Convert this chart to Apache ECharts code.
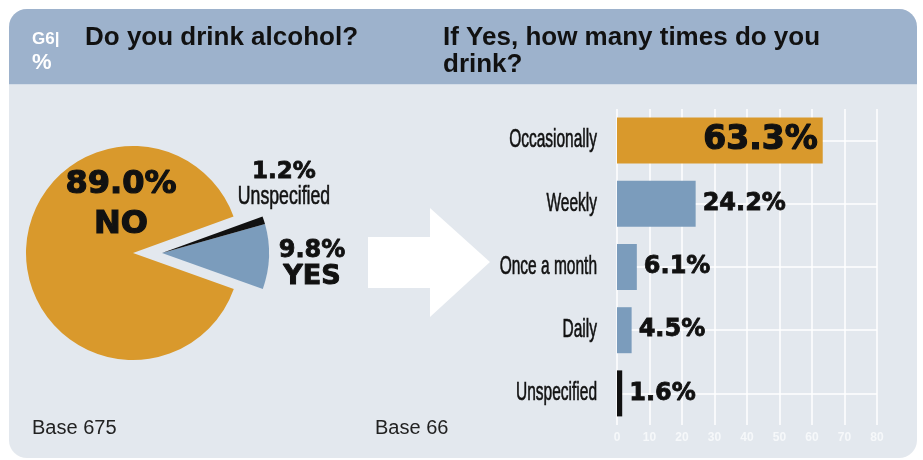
<!DOCTYPE html>
<html>
<head>
<meta charset="utf-8">
<script src="https://cdn.jsdelivr.net/npm/echarts@6/dist/echarts.min.js"></script>
<style>
  html, body { margin: 0; padding: 0; background: #fff; }
  #main { width: 923px; height: 460px; }
</style>
</head>
<body>
<div id="main"></div>
<script>
// left: do you drink alcohol
var pieNames = ['NO', 'YES', 'Unspecified'];
var pieValues = [89.0, 9.8, 1.2];
var pieColors = ['#d9992c', '#7b9cbc', '#111111'];
var pieBase = 675;

// right: how many times
var barCats = ['Occasionally', 'Weekly', 'Once a month', 'Daily', 'Unspecified'];
var barValues = [63.3, 24.2, 6.1, 4.5, 1.6];
var barColors = ['#d9992c', '#7b9cbc', '#7b9cbc', '#7b9cbc', '#111111'];
var barBase = 66;
var xMin = 0, xMax = 80, xStep = 10;

var chart = echarts.init(document.getElementById('main'));

var heavy = 'DejaVu Sans';
var plain = '"Liberation Sans", Arial, sans-serif';
var clear = 'rgba(0,0,0,0)';
// no narrow font installed, so the condensed labels are squeezed
var squeeze = 0.62;

// NO slice stays put, the other two are pulled out to the right together
var pieData = function (exploded) {
    return pieNames.map(function (n, i) {
        var show = exploded ? i > 0 : i === 0;
        return {
            name: n,
            value: pieValues[i],
            itemStyle: {color: show ? pieColors[i] : clear, borderWidth: 0}
        };
    });
};
var pct = function (v) {
    return v.toFixed(1) + '%';
};

var txt = function (x, y, text, font, fill, align, thick) {
    var style = {text: text, font: font, fill: fill, align: align || 'left', verticalAlign: 'middle'};
    if (thick) {
        style.stroke = fill;
        style.lineWidth = thick;
    }
    return {type: 'text', x: x, y: y, z: 10, style: style};
};

var graphics = [
    {type: 'rect', z: -10, shape: {x: 9, y: 9, width: 908, height: 449, r: 18}, style: {fill: '#e3e8ee'}},
    {type: 'rect', z: -9, shape: {x: 9, y: 9, width: 908, height: 75, r: [18, 18, 0, 0]}, style: {fill: '#9db2cc'}},
    {type: 'rect', z: -9, shape: {x: 9, y: 84, width: 908, height: 1}, style: {fill: '#d4dde8'}},
    txt(32, 39, 'G6|', 'bold 17px ' + plain, '#ffffff'),
    txt(32, 63, '%', 'bold 22px ' + plain, '#ffffff'),
    txt(85, 37.5, 'Do you drink alcohol?', 'bold 26px ' + plain, '#111'),
    txt(443, 37.5, 'If Yes, how many times do you', 'bold 26px ' + plain, '#111'),
    txt(443, 64.5, 'drink?', 'bold 26px ' + plain, '#111'),
    // arrow
    {type: 'polygon', z: -5, shape: {points: [[368, 237], [430, 237], [430, 208], [490, 262], [430, 317], [430, 288], [368, 288]]},
        style: {fill: '#ffffff'}},
    txt(121, 184.5, pct(pieValues[0]), 'bold 32px ' + heavy, '#111', 'center', 1.2),
    txt(121, 225, pieNames[0], 'bold 32px ' + heavy, '#111', 'center', 1.2),
    txt(284, 172.5, pct(pieValues[2]), 'bold 23px ' + heavy, '#111', 'center', 0.8),
    txt(312, 251, pct(pieValues[1]), 'bold 24px ' + heavy, '#111', 'center', 0.8),
    txt(312, 277, pieNames[1], 'bold 27px ' + heavy, '#111', 'center', 1),
    txt(32, 428, 'Base ' + pieBase, '20px ' + plain, '#222'),
    txt(375, 428, 'Base ' + barBase, '20px ' + plain, '#222')
];
var unspec = txt(284, 197, pieNames[2], '26px ' + plain, '#111', 'center', 0.6);
unspec.scaleX = 0.68;
graphics.push(unspec);

var option = {
    animation: false,
    backgroundColor: '#ffffff',
    graphic: graphics,
    grid: {left: 617, right: 46, top: 109, bottom: 35, containLabel: false, outerBoundsMode: 'none'},
    xAxis: {
        type: 'value',
        min: xMin,
        max: xMax,
        interval: xStep,
        axisLine: {show: false},
        axisTick: {show: false},
        splitLine: {show: true, lineStyle: {color: '#ffffff', width: 1.5}},
        axisLabel: {color: '#f6f8fa', fontSize: 12, fontWeight: 'bold', fontFamily: plain, margin: 7}
    },
    yAxis: {
        type: 'category',
        inverse: true,
        data: barCats,
        axisLine: {show: false},
        axisTick: {show: false},
        splitLine: {show: false},
        axisLabel: {show: false}
    },
    series: [
        {
            type: 'pie',
            silent: true,
            center: [133, 253],
            radius: 107,
            startAngle: 20,
            clockwise: false,
            label: {show: false},
            labelLine: {show: false},
            data: pieData(false)
        },
        {
            type: 'pie',
            silent: true,
            center: [162, 253],
            radius: 107,
            startAngle: 20,
            clockwise: false,
            label: {show: false},
            labelLine: {show: false},
            data: pieData(true)
        },
        {
            type: 'bar',
            silent: true,
            barWidth: 46,
            data: barValues.map(function (v, i) {
                var d = {value: v, itemStyle: {color: barColors[i]}};
                if (i === 0) {
                    d.label = {position: 'insideRight', distance: 5, fontSize: 33, textBorderWidth: 1.2};
                }
                return d;
            }),
            label: {
                show: true,
                position: 'right',
                distance: 7,
                color: '#111',
                fontFamily: heavy,
                fontWeight: 'bold',
                fontSize: 24,
                textBorderColor: '#111',
                textBorderWidth: 0.8,
                formatter: function (p) {
                    return pct(p.value);
                }
            },
            markLine: {
                silent: true,
                z: 1,
                symbol: 'none',
                label: {show: false},
                lineStyle: {color: '#ffffff', width: 1.5, type: 'solid'},
                data: barCats.map(function (c) {
                    return {yAxis: c};
                })
            }
        }
    ]
};
chart.setOption(option);

// category names, placed from the axes, squeezed like a condensed face
var x0 = chart.convertToPixel({xAxisIndex: 0}, xMin);
barCats.forEach(function (c) {
    var el = txt(x0 - 20, chart.convertToPixel({yAxisIndex: 0}, c), c, '25px ' + plain, '#111', 'right', 0.6);
    el.scaleX = squeeze;
    graphics.push(el);
});
chart.setOption({graphic: graphics});
</script>
</body>
</html>
